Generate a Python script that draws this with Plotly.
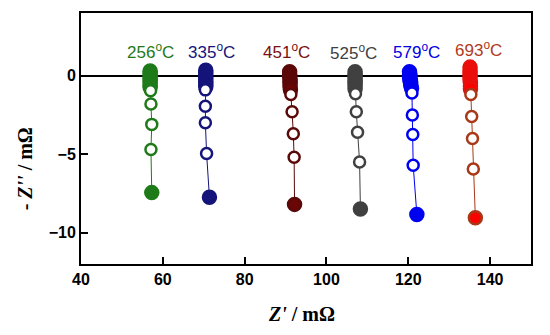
import plotly.graph_objects as go

# Series data
labels = ["256<sup>o</sup>C", "335<sup>o</sup>C", "451<sup>o</sup>C", "525<sup>o</sup>C", "579<sup>o</sup>C", "693<sup>o</sup>C"]
label_x = [56.9, 72.0, 90.3, 106.6, 122.0, 137.1]
label_y = [1.55, 1.55, 1.6, 1.5, 1.6, 1.7]

x256 = [56.9, 56.9, 56.9, 56.9, 56.9, 56.9, 56.9, 56.9, 57.0, 57.1, 57.3, 57.1, 57.3]
y256 = [0.3, 0.15, 0.0, -0.15, -0.3, -0.45, -0.6, -0.75, -0.95, -1.8, -3.1, -4.7, -7.45]
x335 = [70.5, 70.5, 70.5, 70.5, 70.5, 70.5, 70.5, 70.5, 70.4, 70.4, 70.4, 70.7, 71.4]
y335 = [0.35, 0.2, 0.05, -0.1, -0.25, -0.4, -0.55, -0.7, -0.9, -1.95, -3.0, -4.95, -7.75]
x451 = [91.0, 91.0, 91.0, 91.1, 91.1, 91.1, 91.1, 91.2, 91.3, 91.6, 91.9, 92.1, 92.2]
y451 = [0.25, 0.1, -0.05, -0.2, -0.35, -0.5, -0.7, -0.9, -1.2, -2.3, -3.7, -5.2, -8.2]
x525 = [107.0, 107.0, 107.0, 107.0, 107.0, 107.0, 107.0, 107.0, 107.1, 107.3, 107.6, 108.1, 108.3]
y525 = [0.25, 0.1, -0.05, -0.2, -0.35, -0.5, -0.65, -0.85, -1.15, -2.3, -3.6, -5.5, -8.5]
x579 = [120.3, 120.4, 120.3, 120.5, 120.4, 120.6, 120.6, 120.8, 120.9, 121.0, 121.1, 121.2, 122.1]
y579 = [0.25, 0.1, -0.05, -0.2, -0.3, -0.45, -0.6, -0.8, -1.1, -2.5, -3.75, -5.7, -8.85]
x693 = [135.1, 135.1, 135.1, 135.1, 135.1, 135.2, 135.2, 135.2, 135.3, 135.5, 135.7, 135.9, 136.4]
y693 = [0.55, 0.35, 0.15, -0.05, -0.25, -0.45, -0.65, -0.85, -1.2, -2.6, -4.0, -5.95, -9.05]

# (x, y, fill colour, cluster edge, open/final edge, label colour)
series = [
    (x256, y256, "#1f7a1a", "#1f7a1a", "#1f7a1a", "#1f7a1a"),
    (x335, y335, "#14147a", "#14147a", "#14147a", "#14147a"),
    (x451, y451, "#6a0606", "#5a0808", "#5a0808", "#7a1010"),
    (x525, y525, "#404040", "#404040", "#404040", "#404040"),
    (x579, y579, "#0000f0", "#0000f0", "#0000f0", "#0000e0"),
    (x693, y693, "#ff0000", "#e8100c", "#a83818", "#b03a20"),
]
n_filled = 8

fig = go.Figure()
for xs, ys, fill, cedge, edge, tcol in series:
    n = len(xs)
    filled = [(i < n_filled or i == n - 1) for i in range(n)]
    fills = [fill if f else "white" for f in filled]
    sizes = [13 if f else 11 for f in filled]
    edges = [cedge if i < n_filled else edge for i in range(n)]
    fig.add_trace(go.Scatter(
        x=xs, y=ys, mode="lines+markers",
        line=dict(color=edge, width=1),
        marker=dict(symbol="circle", size=sizes, color=fills, opacity=1,
                    line=dict(color=edges, width=2.5)),
        opacity=1, showlegend=False, cliponaxis=False,
    ))

for (xs, ys, fill, cedge, edge, tcol), lab, lx, ly in zip(series, labels, label_x, label_y):
    fig.add_annotation(x=lx, y=ly, text=lab, showarrow=False,
                       font=dict(family="Liberation Sans", size=17, color=tcol),
                       xanchor="center", yanchor="middle")

fig.add_annotation(xref="paper", yref="paper", x=-0.125, y=0.38,
                   text="<b>- <i>Z''</i> / mΩ</b>", textangle=-90, showarrow=False,
                   font=dict(family="Liberation Serif", size=20, color="black"),
                   xanchor="center", yanchor="middle")
fig.add_annotation(xref="paper", yref="paper", x=0.49, y=-0.198,
                   text="<b><i>Z'</i> / mΩ</b>", showarrow=False,
                   font=dict(family="Liberation Serif", size=20, color="black"),
                   xanchor="center", yanchor="middle")

fig.update_xaxes(range=[40, 150], tickvals=[40, 60, 80, 100, 120, 140],
                 ticks="inside", ticklen=7, tickwidth=1.5, tickcolor="black",
                 showline=True, linecolor="black", linewidth=2, mirror=True,
                 showgrid=False, zeroline=False,
                 tickfont=dict(family="Liberation Sans", size=16, color="black", weight="bold"))
fig.update_yaxes(range=[-12, 4], tickvals=[-10, -5, 0],
                 ticks="inside", ticklen=7, tickwidth=1.5, tickcolor="black",
                 showline=True, linecolor="black", linewidth=2, mirror=True,
                 showgrid=False, zeroline=True, zerolinecolor="black", zerolinewidth=1.5,
                 tickfont=dict(family="Liberation Sans", size=16, color="black", weight="bold"))

# page body has an 8px margin, so the figure is offset by (8, 8) in the window
fig.update_layout(width=542, height=327, margin=dict(l=73, r=19, t=3, b=71),
                  plot_bgcolor="white", paper_bgcolor="white")
fig.write_html("out.html")
